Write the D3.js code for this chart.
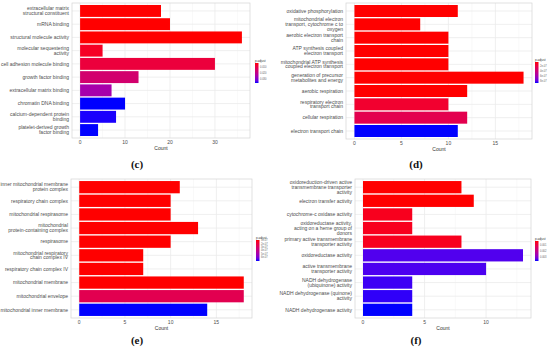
<!DOCTYPE html>
<html>
<head>
<meta charset="utf-8">
<script src="https://cdn.jsdelivr.net/npm/d3@7"></script>
<style>
  body { margin: 0; background: #fff; }
  svg { display: block; font-family: "Liberation Sans", Arial, sans-serif; }
</style>
</head>
<body>
<svg width="550" height="349"></svg>
<script>
// ---- data ----
var termsC = ["extracellular matrix\nstructural constituent", "mRNA binding", "structural molecule activity",
  "molecular sequestering\nactivity", "cell adhesion molecule binding", "growth factor binding",
  "extracellular matrix binding", "chromatin DNA binding", "calcium-dependent protein\nbinding",
  "platelet-derived growth\nfactor binding"];
var countC = [18, 20, 36, 5, 30, 13, 7, 10, 8, 4];
var padjC = [0.002, 0.002, 0.002, 0.0049, 0.0081, 0.0157, 0.0254, 0.038, 0.0377, 0.038];
var legendC = [0.01, 0.02, 0.03];
var ticksC = [0, 10, 20, 30];

var termsD = ["oxidative phosphorylation", "mitochondrial electron\ntransport, cytochrome c to\noxygen",
  "aerobic electron transport\nchain", "ATP synthesis coupled\nelectron transport",
  "mitochondrial ATP synthesis\ncoupled electron transport", "generation of precursor\nmetabolites and energy",
  "aerobic respiration", "respiratory electron\ntransport chain", "cellular respiration", "electron transport chain"];
var countD = [11, 7, 10, 10, 10, 18, 12, 10, 12, 11];
var padjD = [1e-8, 1e-8, 1e-8, 1e-8, 1e-8, 1e-8, 1e-8, 1.17e-7, 2.3e-7, 9e-7];
var legendD = [2e-7, 4e-7, 6e-7, 8e-7];
var ticksD = [0, 5, 10, 15];

var termsE = ["inner mitochondrial membrane\nprotein complex", "respiratory chain complex", "mitochondrial respirasome",
  "mitochondrial\nprotein-containing complex", "respirasome", "mitochondrial respiratory\nchain complex IV",
  "respiratory chain complex IV", "mitochondrial membrane", "mitochondrial envelope", "mitochondrial inner membrane"];
var countE = [11, 10, 10, 13, 10, 7, 7, 18, 18, 14];
var padjE = [9e-8, 9e-8, 9e-8, 9e-8, 9e-8, 9e-8, 9e-8, 9e-8, 2.5e-7, 7.2e-7];
var legendE = [1e-7, 2e-7, 3e-7, 4e-7, 5e-7, 6e-7];
var ticksE = [0, 5, 10, 15];

var termsF = ["oxidoreduction-driven active\ntransmembrane transporter\nactivity", "electron transfer activity",
  "cytochrome-c oxidase activity", "oxidoreductase activity,\nacting on a heme group of\ndonors",
  "primary active transmembrane\ntransporter activity", "oxidoreductase activity",
  "active transmembrane\ntransporter activity", "NADH dehydrogenase\n(ubiquinone) activity",
  "NADH dehydrogenase (quinone)\nactivity", "NADH dehydrogenase activity"];
var countF = [8, 9, 4, 4, 8, 13, 10, 4, 4, 4];
var padjF = [0.0002, 0.0002, 0.00042, 0.00042, 0.00042, 0.00355, 0.00358, 0.00366, 0.00371, 0.0038];
var legendF = [0.001, 0.002, 0.003];
var ticksF = [0, 5, 10];

var svg = d3.select("svg");

function drawPanel(terms, counts, padj, legendTicks, xTicks, box, tag, fmt) {
  var g = svg.append("g");
  var maxC = d3.max(counts);
  var x = d3.scaleLinear().domain([-0.05 * maxC, 1.05 * maxC]).range([box.left, box.right]);
  var y = d3.scaleLinear().domain([0.4, terms.length + 0.6]).range([box.top, box.bottom]);
  var pext = d3.extent(padj.concat(box.pdom));
  var color = d3.scaleLinear().domain(pext).range(["red", "blue"]).interpolate(d3.interpolateLab);

  // grid
  var minor = d3.range(xTicks[0] + (xTicks[1] - xTicks[0]) / 2, x.domain()[1], xTicks[1] - xTicks[0]);
  g.selectAll(".minor").data(minor).enter().append("line")
    .attr("x1", d => x(d)).attr("x2", d => x(d))
    .attr("y1", box.top).attr("y2", box.bottom)
    .attr("stroke", "#f2f2f2").attr("stroke-width", 0.5);
  g.selectAll(".major").data(xTicks).enter().append("line")
    .attr("x1", d => x(d)).attr("x2", d => x(d))
    .attr("y1", box.top).attr("y2", box.bottom)
    .attr("stroke", "#ebebeb").attr("stroke-width", 0.8);
  g.selectAll(".hgrid").data(terms).enter().append("line")
    .attr("x1", box.left).attr("x2", box.right)
    .attr("y1", (d, i) => y(i + 1)).attr("y2", (d, i) => y(i + 1))
    .attr("stroke", "#ebebeb").attr("stroke-width", 0.8);

  // bars
  g.selectAll(".bar").data(counts).enter().append("rect")
    .attr("x", x(0))
    .attr("y", (d, i) => y(i + 1 - 0.45))
    .attr("width", d => x(d) - x(0))
    .attr("height", (d, i) => y(i + 1 + 0.45) - y(i + 1 - 0.45))
    .attr("fill", (d, i) => color(padj[i]));

  // border
  g.append("rect")
    .attr("x", box.left).attr("y", box.top)
    .attr("width", box.right - box.left).attr("height", box.bottom - box.top)
    .attr("fill", "none").attr("stroke", "#d4d4d4").attr("stroke-width", 0.7);

  // category labels
  var lab = g.selectAll(".cat").data(terms).enter().append("text")
    .attr("text-anchor", "end")
    .attr("font-size", 5)
    .attr("fill", "#4d4d4d");
  lab.each(function(d, i) {
    var lines = d.split("\n");
    var t = d3.select(this);
    var lh = 4.8;
    var y0 = y(i + 1) - (lines.length - 1) * lh / 2 + 1.7;
    lines.forEach(function(l, k) {
      t.append("tspan").attr("x", box.left - 3).attr("y", y0 + k * lh).text(l);
    });
  });

  // x tick labels
  g.selectAll(".tick").data(xTicks).enter().append("text")
    .attr("x", d => x(d)).attr("y", box.bottom + 6)
    .attr("text-anchor", "middle").attr("font-size", 5).attr("fill", "#4d4d4d")
    .text(d => d);
  g.append("text")
    .attr("x", (box.left + box.right) / 2).attr("y", box.bottom + 12)
    .attr("text-anchor", "middle").attr("font-size", 5).attr("fill", "#333")
    .text("Count");

  // colour bar legend
  var lg = box.legend;
  var ly = d3.scaleLinear().domain(pext).range([lg.top, lg.bottom]);
  var gid = "grad" + tag;
  var grad = svg.append("defs").append("linearGradient").attr("id", gid)
    .attr("x1", 0).attr("y1", 0).attr("x2", 0).attr("y2", 1);
  d3.range(0, 1.001, 0.1).forEach(function(t) {
    grad.append("stop").attr("offset", t)
      .attr("stop-color", color(pext[0] + t * (pext[1] - pext[0])));
  });
  g.append("text").attr("x", lg.x).attr("y", lg.top - 1.5)
    .attr("font-size", 3).attr("fill", "#333").text("p.adjust");
  g.append("rect").attr("x", lg.x).attr("y", lg.top)
    .attr("width", 3.5).attr("height", lg.bottom - lg.top)
    .attr("fill", "url(#" + gid + ")");
  g.selectAll(".lt").data(legendTicks).enter().append("text")
    .attr("x", lg.x + 5).attr("y", d => ly(d) + 1)
    .attr("font-size", 2.6).attr("fill", "#666")
    .text(d => fmt(d));

  // panel tag
  g.append("text")
    .attr("x", box.tagX).attr("y", box.tagY)
    .attr("text-anchor", "middle")
    .attr("font-family", "'Liberation Serif', 'Times New Roman', serif")
    .attr("font-weight", "bold").attr("font-size", 11).attr("fill", "#111")
    .text("(" + tag + ")");
}

var fmtDec = d3.format(".3f");
var fmtExp = function(d) { return d3.format(".0e")(d).replace("e-", "e-0"); };

drawPanel(termsC, countC, padjC, legendC, ticksC,
  {left: 72, right: 250, top: 3, bottom: 138, pdom: [0.002, 0.038],
   legend: {x: 255, top: 63, bottom: 83}, tagX: 137, tagY: 168}, "c", fmtDec);
drawPanel(termsD, countD, padjD, legendD, ticksD,
  {left: 346, right: 532, top: 3, bottom: 139, pdom: [1e-8, 9e-7],
   legend: {x: 535, top: 62, bottom: 83}, tagX: 416, tagY: 168}, "d", fmtExp);
drawPanel(termsE, countE, padjE, legendE, ticksE,
  {left: 71, right: 252, top: 179, bottom: 318, pdom: [9e-8, 7.2e-7],
   legend: {x: 256, top: 240, bottom: 261}, tagX: 137, tagY: 344}, "e", fmtExp);
drawPanel(termsF, countF, padjF, legendF, ticksF,
  {left: 355, right: 531, top: 179, bottom: 318, pdom: [0.0002, 0.0038],
   legend: {x: 535, top: 241, bottom: 261}, tagX: 416, tagY: 344}, "f", fmtDec);
</script>
</body>
</html>
